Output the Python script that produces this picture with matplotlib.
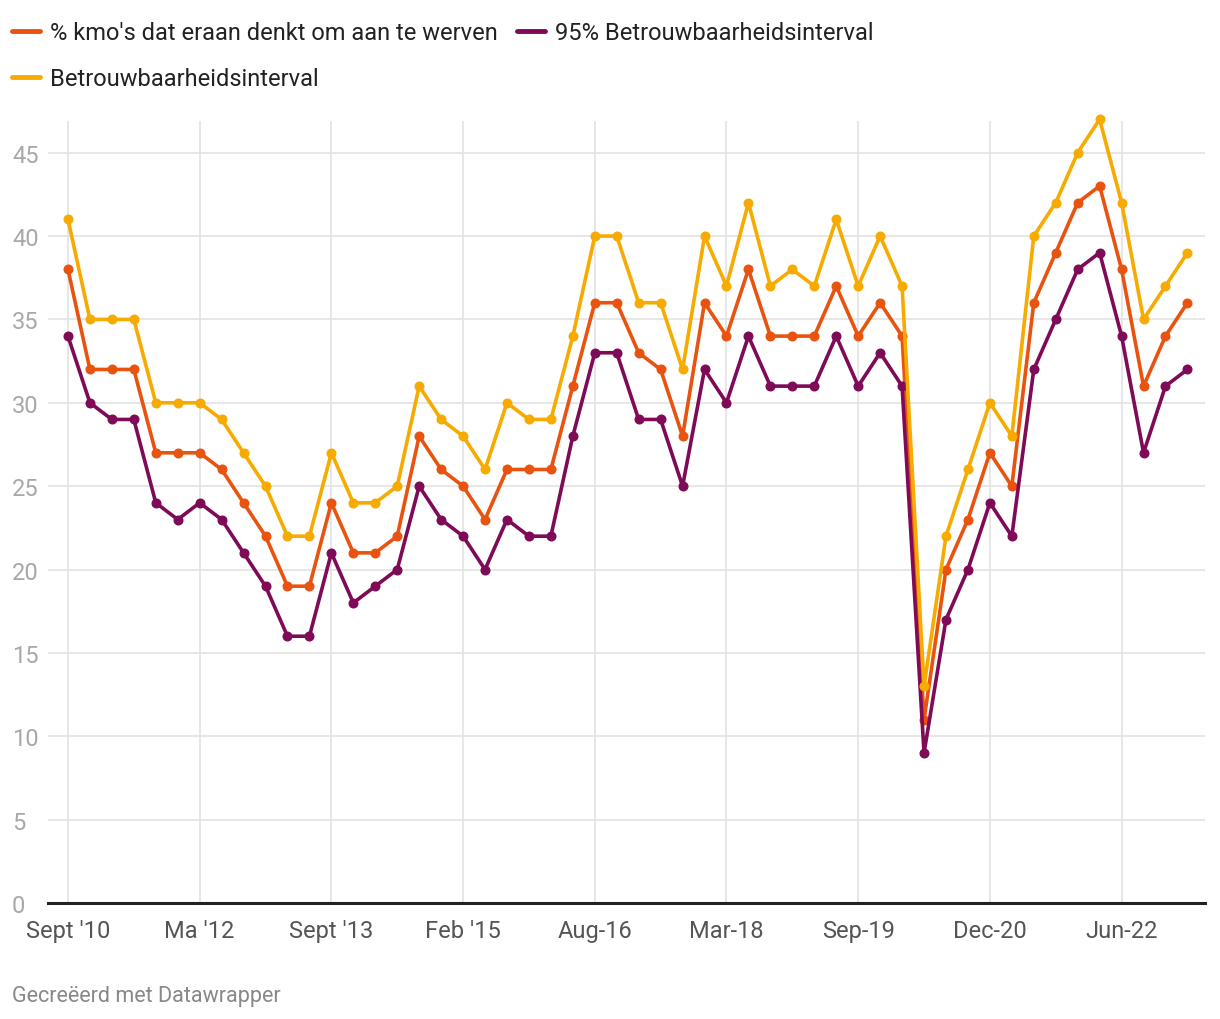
import matplotlib.pyplot as plt
import numpy as np

plt.rcParams['font.family'] = ['Roboto', 'DejaVu Sans']

# values, one point per period (52 periods)
share = [38, 32, 32, 32, 27, 27, 27, 26, 24, 22, 19, 19, 24, 21, 21, 22, 28, 26,
         25, 23, 26, 26, 26, 31, 36, 36, 33, 32, 28, 36, 34, 38, 34, 34, 34, 37,
         34, 36, 34, 11, 20, 23, 27, 25, 36, 39, 42, 43, 38, 31, 34, 36]
lower = [34, 30, 29, 29, 24, 23, 24, 23, 21, 19, 16, 16, 21, 18, 19, 20, 25, 23,
         22, 20, 23, 22, 22, 28, 33, 33, 29, 29, 25, 32, 30, 34, 31, 31, 31, 34,
         31, 33, 31, 9, 17, 20, 24, 22, 32, 35, 38, 39, 34, 27, 31, 32]
upper = [41, 35, 35, 35, 30, 30, 30, 29, 27, 25, 22, 22, 27, 24, 24, 25, 31, 29,
         28, 26, 30, 29, 29, 34, 40, 40, 36, 36, 32, 40, 37, 42, 37, 38, 37, 41,
         37, 40, 37, 13, 22, 26, 30, 28, 40, 42, 45, 47, 42, 35, 37, 39]

tick_labels = ["Sept '10", "Ma '12", "Sept '13", "Feb '15", "Aug-16",
               "Mar-18", "Sep-19", "Dec-20", "Jun-22"]
series_names = ["% kmo's dat eraan denkt om aan te werven",
                "95% Betrouwbaarheidsinterval",
                "Betrouwbaarheidsinterval"]
colors = ['#e8540f', '#7f0a57', '#f7aa00']

x = np.arange(len(share))

fig = plt.figure(figsize=(12.2, 10.2), dpi=100)
ax = fig.add_axes([48 / 1220, 1 - 904 / 1020, (1205 - 48) / 1220, (904 - 122) / 1020])

for vals, name, col in zip([share, lower, upper], series_names, colors):
    ax.plot(x, vals, color=col, lw=2.6, marker='o', ms=6.2, label=name,
            clip_on=False, zorder=3, solid_joinstyle='round')

ax.set_xlim(-0.91, 51.8)
ax.set_ylim(0, 46.9)

ax.set_yticks(range(0, 50, 5))
ax.set_xticks(range(0, 52, 6))
ax.set_xticklabels(tick_labels)
ax.grid(True, color='#e3e3e3', lw=1.2, zorder=0)
ax.set_axisbelow(True)
for s in ax.spines.values():
    s.set_visible(False)
ax.axhline(0, color='#222222', lw=2.2, zorder=4, clip_on=False)

ax.tick_params(axis='both', length=0)
ax.tick_params(axis='x', labelsize=17, labelcolor='#555555', pad=11.5)
ax.tick_params(axis='y', labelsize=17, labelcolor='#a8a8a8', pad=0)
for lab in ax.get_yticklabels():
    lab.set_horizontalalignment('left')
    lab.set_x(-36 / (1205 - 48))

# legend, laid out as in the original (two rows)
leg_items = [(12, 32, 0), (517, 32, 1), (12, 78, 2)]
for lx, ly, i in leg_items:
    fy = 1 - ly / 1020
    fig.add_artist(plt.Line2D([lx / 1220, (lx + 28) / 1220], [fy, fy],
                              color=colors[i], lw=3.5, solid_capstyle='round'))
    fig.text((lx + 38) / 1220, fy - 2 / 1020, series_names[i], fontsize=17,
             color='#222222', va='center', ha='left')

fig.text(12 / 1220, 1 - 997 / 1020, "Gecreëerd met Datawrapper", fontsize=15.5,
         color='#888888', va='center', ha='left')

fig.savefig('out.png', dpi=100)
